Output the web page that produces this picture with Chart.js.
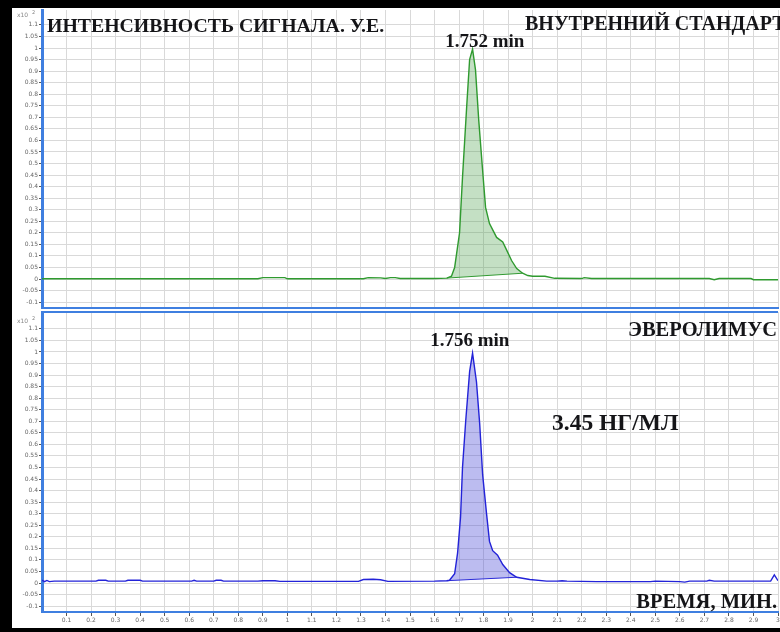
<!DOCTYPE html>
<html>
<head>
<meta charset="utf-8">
<title>Хроматограмма</title>
<script src="https://cdn.jsdelivr.net/npm/chart.js@4.4.1/dist/chart.umd.min.js"></script>
<style>
  html, body { margin: 0; padding: 0; }
  body { width: 780px; height: 632px; background: #000; position: relative; overflow: hidden; }
  #sheet { position: absolute; left: 12px; top: 8px; width: 768px; height: 620px; background: #fff; }
  #sheet canvas { position: absolute; left: 0; }
  #top { top: 0; }
  #bottom { top: 302px; }
</style>
</head>
<body>
<div id="sheet">
  <canvas id="top" width="768" height="302"></canvas>
  <canvas id="bottom" width="768" height="318"></canvas>
</div>
<script>
// internal standard trace (min, x10^2)
var isTime = [0, 0.5, 0.88, 0.9, 0.99, 1.0, 1.31, 1.33, 1.38, 1.40, 1.42, 1.44, 1.46, 1.6, 1.65,
  1.669, 1.682, 1.69, 1.702, 1.714, 1.731, 1.743, 1.755, 1.767, 1.780, 1.796, 1.808, 1.824,
  1.853, 1.878, 1.894, 1.914, 1.935, 1.959, 1.98, 2.0, 2.05, 2.09, 2.2, 2.21, 2.24, 2.72, 2.74,
  2.76, 2.89, 2.9, 3.0];
var isSignal = [0.001, 0.001, 0.001, 0.006, 0.006, 0.001, 0.001, 0.006, 0.005, 0.002, 0.006, 0.006, 0.002, 0.002, 0.004,
  0.012, 0.05, 0.11, 0.2, 0.44, 0.745, 0.95, 0.995, 0.905, 0.69, 0.47, 0.31, 0.24,
  0.18, 0.16, 0.125, 0.08, 0.045, 0.025, 0.015, 0.012, 0.012, 0.003, 0.002, 0.006, 0.002, 0.002, -0.003,
  0.002, 0.002, -0.003, -0.003];

// everolimus trace
var evTime = [0, 0.01, 0.02, 0.03, 0.05, 0.22, 0.23, 0.26, 0.27, 0.34, 0.35, 0.40, 0.41, 0.61, 0.62,
  0.63, 0.70, 0.71, 0.73, 0.74, 0.88, 0.9, 0.95, 0.97, 1.29, 1.31, 1.35, 1.38, 1.41, 1.6, 1.65,
  1.661, 1.682, 1.694, 1.706, 1.714, 1.727, 1.743, 1.755, 1.771, 1.784, 1.796, 1.812, 1.824,
  1.837, 1.857, 1.878, 1.906, 1.935, 1.988, 2.057, 2.1, 2.12, 2.14, 2.26, 2.48, 2.5, 2.6, 2.62,
  2.64, 2.71, 2.72, 2.74, 2.97, 2.985, 3.0];
var evSignal = [0.012, 0.006, 0.011, 0.006, 0.008, 0.008, 0.012, 0.012, 0.008, 0.008, 0.012, 0.012, 0.008, 0.008, 0.012,
  0.008, 0.008, 0.012, 0.012, 0.008, 0.008, 0.01, 0.01, 0.007, 0.007, 0.015, 0.016, 0.014, 0.007, 0.008, 0.01,
  0.012, 0.04, 0.13, 0.285, 0.5, 0.7, 0.915, 0.995, 0.87, 0.69, 0.47, 0.30, 0.18,
  0.14, 0.12, 0.08, 0.045, 0.025, 0.015, 0.008, 0.008, 0.01, 0.008, 0.006, 0.006, 0.008, 0.006, 0.004,
  0.008, 0.008, 0.012, 0.008, 0.008, 0.035, 0.01];

// integration windows (start/end of the drawn baseline) and retention times
var isWindow = [1.65, 1.959];
var evWindow = [1.65, 1.935];
var retTimes = [1.752, 1.756];

var yTicks = [1.1, 1.05, 1, 0.95, 0.9, 0.85, 0.8, 0.75, 0.7, 0.65, 0.6, 0.55, 0.5, 0.45, 0.4,
  0.35, 0.3, 0.25, 0.2, 0.15, 0.1, 0.05, 0, -0.05, -0.1];
var xTicks = [0.1, 0.2, 0.3, 0.4, 0.5, 0.6, 0.7, 0.8, 0.9, 1, 1.1, 1.2, 1.3, 1.4, 1.5, 1.6, 1.7,
  1.8, 1.9, 2, 2.1, 2.2, 2.3, 2.4, 2.5, 2.6, 2.7, 2.8, 2.9, 3];

var FRAME = '#3f7fe0';
var GRID = '#d9d9d9';
var SERIF = '"Liberation Serif", "Times New Roman", serif';

// free text, peak labels and the x10^2 multiplier
var notesPlugin = {
  id: 'notes',
  afterDraw: function (chart, args, opts) {
    var ctx = chart.ctx;
    ctx.save();
    if (opts.topFrame) {
      ctx.strokeStyle = FRAME;
      ctx.lineWidth = 2;
      ctx.beginPath();
      ctx.moveTo(chart.chartArea.left - 1, chart.chartArea.top);
      ctx.lineTo(chart.chartArea.right, chart.chartArea.top);
      ctx.stroke();
    }
    ctx.fillStyle = '#888';
    ctx.font = '6px "DejaVu Sans", sans-serif';
    ctx.textAlign = 'left';
    ctx.textBaseline = 'alphabetic';
    ctx.fillText('x10', opts.mult[0], opts.mult[1]);
    ctx.font = '5px "DejaVu Sans", sans-serif';
    ctx.fillText('2', opts.mult[0] + 15, opts.mult[1] - 3);

    ctx.fillStyle = '#151518';
    opts.items.forEach(function (it) {
      ctx.font = 'bold ' + it.size + 'px ' + SERIF;
      ctx.textAlign = it.align;
      ctx.fillText(it.text, it.x, it.y);
    });

    var xs = chart.scales.x, ys = chart.scales.y;
    var pk = opts.peak;
    ctx.font = 'bold 19px ' + SERIF;
    ctx.textAlign = 'center';
    ctx.fillText(pk.t.toFixed(3) + ' min', xs.getPixelForValue(pk.t) + pk.dx, ys.getPixelForValue(pk.h) + pk.dy);
    ctx.restore();
  }
};

function noPad(s) {
  s.paddingTop = 0; s.paddingBottom = 0; s.paddingLeft = 0; s.paddingRight = 0;
}

function makeChart(id, time, signal, win, color, fillColor, cfg) {
  var pts = time.map(function (t, i) { return { x: t, y: signal[i] }; });
  var peak = pts.filter(function (p) { return p.x >= win[0] && p.x <= win[1]; });
  var base = [peak[0], peak[peak.length - 1]];
  var top = Math.max.apply(null, signal);
  return new Chart(document.getElementById(id), {
    type: 'line',
    data: {
      datasets: [
        { data: pts, borderColor: color, borderWidth: 1.4, fill: false, pointRadius: 0, tension: 0 },
        { data: peak, borderColor: 'rgba(0,0,0,0)', borderWidth: 0, backgroundColor: fillColor,
          fill: 2, pointRadius: 0, tension: 0 },
        { data: base, borderColor: color, borderWidth: 1, fill: false, pointRadius: 0, tension: 0 }
      ]
    },
    options: {
      responsive: false,
      animation: false,
      events: [],
      layout: { padding: { top: 2, right: 2, left: 0, bottom: 0 } },
      plugins: {
        legend: { display: false },
        tooltip: { enabled: false },
        notes: {
          items: cfg.items,
          mult: cfg.mult,
          topFrame: cfg.topFrame,
          peak: { t: cfg.rt, h: top, dx: cfg.dx, dy: cfg.dy }
        }
      },
      scales: {
        x: {
          type: 'linear', min: 0, max: 3,
          afterBuildTicks: function (s) { s.ticks = xTicks.map(function (v) { return { value: v }; }); },
          afterFit: function (s) { s.height = cfg.xHeight; noPad(s); },
          grid: { color: GRID, lineWidth: 1, tickLength: cfg.showX ? 4 : 0, tickColor: '#555', drawTicks: cfg.showX },
          border: { color: FRAME, width: 2 },
          ticks: {
            display: cfg.showX, maxRotation: 0, autoSkip: false, padding: 1,
            color: '#666', font: { family: '"DejaVu Sans", sans-serif', size: 6 },
            callback: function (v) { return String(+v.toFixed(1)); }
          }
        },
        y: {
          min: cfg.yMin, max: cfg.yMax,
          afterBuildTicks: function (s) { s.ticks = yTicks.map(function (v) { return { value: v }; }); },
          afterFit: function (s) { s.width = 30; noPad(s); },
          grid: { color: GRID, lineWidth: 1, tickLength: 3, tickColor: '#555' },
          border: { color: FRAME, width: 3 },
          ticks: {
            autoSkip: false, padding: 1,
            color: '#666', font: { family: '"DejaVu Sans", sans-serif', size: 6 },
            callback: function (v) { return String(+v.toFixed(2)); }
          }
        }
      }
    },
    plugins: [notesPlugin]
  });
}

makeChart('top', isTime, isSignal, isWindow, '#2f9a2f', 'rgba(70,160,70,0.32)', {
  yMin: -0.1255, yMax: 1.1645, xHeight: 2, showX: false, topFrame: false,
  rt: retTimes[0], dx: 13, dy: -2, mult: [5, 9],
  items: [
    { text: 'ИНТЕНСИВНОСТЬ СИГНАЛА. У.Е.', x: 35, y: 24, size: 19.8, align: 'left' },
    { text: 'ВНУТРЕННИЙ СТАНДАРТ', x: 513, y: 22, size: 20, align: 'left' }
  ]
});

makeChart('bottom', evTime, evSignal, evWindow, '#2323d8', 'rgba(80,80,215,0.38)', {
  yMin: -0.1255, yMax: 1.173, xHeight: 16, showX: true, topFrame: true,
  rt: retTimes[1], dx: -3, dy: -7, mult: [5, 13],
  items: [
    { text: 'ЭВЕРОЛИМУС', x: 765, y: 26, size: 20.5, align: 'right' },
    { text: '3.45 НГ/МЛ', x: 540, y: 120, size: 23.5, align: 'left' },
    { text: 'ВРЕМЯ, МИН.', x: 765, y: 298, size: 20.5, align: 'right' }
  ]
});
</script>
</body>
</html>
